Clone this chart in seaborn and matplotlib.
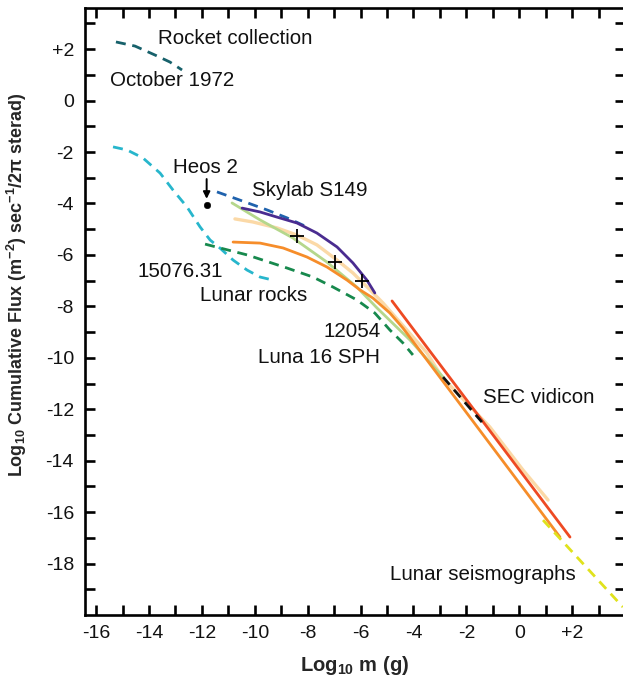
import numpy as np
import pandas as pd
import matplotlib
matplotlib.use("Agg")
import matplotlib.pyplot as plt
import seaborn as sns

sns.set_style("white")
plt.rcParams['font.family'] = ['Liberation Sans', 'DejaVu Sans']
plt.rcParams['font.sans-serif'] = ['Liberation Sans', 'DejaVu Sans']
plt.rcParams['mathtext.default'] = 'regular'

# ---- data (log10 m, log10 flux) ----
rocket_x = [-15.25, -14.53, -13.77, -13.21, -12.75]
rocket_y = [2.28, 2.12, 1.77, 1.50, 1.19]

lunar_rocks_x = [-15.36, -14.83, -14.23, -13.58, -13.09, -12.56, -12.07, -11.69, -11.32, -10.82, -10.29, -9.80, -9.31]
lunar_rocks_y = [-1.80, -1.92, -2.23, -2.82, -3.48, -4.14, -4.91, -5.42, -5.73, -6.20, -6.59, -6.86, -6.98]

s15076_x = [-11.88, -10.29, -8.78, -7.80, -7.04, -6.14, -5.46, -4.89, -4.40, -4.02]
s15076_y = [-5.58, -6.00, -6.51, -6.86, -7.25, -7.75, -8.26, -8.92, -9.42, -9.89]

skylab_x = [-11.43, -10.56, -9.54, -8.78, -8.03]
skylab_y = [-3.55, -3.87, -4.25, -4.56, -4.91]

purple_x = [-10.48, -9.80, -9.16, -8.40, -7.65, -6.89, -6.29, -5.76, -5.46]
purple_y = [-4.18, -4.33, -4.53, -4.76, -5.15, -5.69, -6.31, -6.98, -7.48]

peach_x = [-10.75, -10.07, -9.16, -8.40, -7.65, -6.89, -6.29, -5.64, -5.15, -4.25, -3.49, -2.92, -1.11, 0.14, 1.09]
peach_y = [-4.60, -4.72, -4.95, -5.23, -5.61, -6.20, -6.70, -7.36, -7.87, -8.92, -9.81, -10.75, -12.69, -14.36, -15.53]

orange_x = [-10.82, -9.80, -8.93, -8.03, -7.27, -6.51, -6.02, -5.53, -4.89, -4.40, 1.54]
orange_y = [-5.50, -5.54, -5.73, -6.08, -6.47, -6.98, -7.36, -7.68, -8.26, -8.84, -16.97]

lgreen_x = [-10.86, -9.80, -8.56, -7.27, -6.14, -5.38, -4.13, -2.88]
lgreen_y = [-3.98, -4.64, -5.34, -6.28, -7.25, -8.06, -9.31, -10.75]

red_x = [-4.81, 1.92]
red_y = [-7.79, -16.97]

sec_x = [-2.88, -1.41]
sec_y = [-10.75, -12.50]

seismo_x = [0.90, 3.92]
seismo_y = [-16.31, -19.69]

plus_x = [-8.40, -6.97, -5.95]
plus_y = [-5.26, -6.28, -7.01]

heos_x = [-11.82]
heos_y = [-4.06]

xticks = list(range(-16, 4))
xtick_labels = ['-16', '', '-14', '', '-12', '', '-10', '', '-8', '', '-6', '', '-4', '', '-2', '', '0', '', '+2', '']
yticks = list(range(-19, 4))
ylabels_map = {2: '+2', 0: '0'}

# ---- figure ----
fig = plt.figure(figsize=(6.23, 6.78), dpi=100)
ax = fig.add_axes([85/623, 1 - 615/678, (625-85)/623, (615-8)/678])

dash = (0, (3.6, 2.4))
lw = 2.0

def line(x, y, color, ls='-', w=lw):
    sns.lineplot(x=x, y=y, ax=ax, color=color, linestyle=ls, linewidth=w,
                 sort=False, estimator=None)

line(rocket_x, rocket_y, '#17616b', dash)
line(lunar_rocks_x, lunar_rocks_y, '#27b6cc', dash)
line(s15076_x, s15076_y, '#17894d', dash)
line(skylab_x, skylab_y, '#1f62ad', dash)
line(peach_x, peach_y, '#fbd9a7', '-', 2.4)
line(lgreen_x, lgreen_y, '#b5d78c', '-')
line(orange_x, orange_y, '#f68d2a', '-')
line(purple_x, purple_y, '#4a2c90', '-')
line(red_x, red_y, '#ee4a23', '-')
line(sec_x, sec_y, '#111111', dash)
line(seismo_x, seismo_y, '#e0e21c', dash)

sns.scatterplot(x=plus_x, y=plus_y, ax=ax, marker='+', s=110, color='black',
                linewidth=1.3, zorder=5)
sns.scatterplot(x=heos_x, y=heos_y, ax=ax, marker='o', s=22, color='black',
                edgecolor='black', zorder=5)
ax.annotate('', xy=(-11.82, -3.82), xytext=(-11.82, -3.05),
            arrowprops=dict(arrowstyle='-|>', color='black', lw=1.4,
                            mutation_scale=10, shrinkA=0, shrinkB=0))

fs = 14.8
txt = dict(fontsize=fs, color='#111111')
ax.text(-13.66, 2.43, 'Rocket collection', ha='left', va='center', **txt)
ax.text(-15.47, 0.80, 'October 1972', ha='left', va='center', **txt)
ax.text(-11.85, -2.62, 'Heos 2', ha='center', va='center', **txt)
ax.text(-10.11, -3.48, 'Skylab S149', ha='left', va='center', **txt)
ax.text(-14.42, -6.66, '15076.31', ha='left', va='center', **txt)
ax.text(-12.07, -7.56, 'Lunar rocks', ha='left', va='center', **txt)
ax.text(-5.23, -8.96, '12054', ha='right', va='center', **txt)
ax.text(-5.27, -9.97, 'Luna 16 SPH', ha='right', va='center', **txt)
ax.text(-1.37, -11.56, 'SEC vidicon', ha='left', va='center', **txt)
ax.text(-4.89, -18.44, 'Lunar seismographs', ha='left', va='center', **txt)

ax.set_xlim(-16.42, 4.0)
ax.set_ylim(-20, 3.6)
ax.set_xticks(xticks)
ax.set_xticklabels(xtick_labels)
ax.set_yticks(yticks)
ax.set_yticklabels([ylabels_map.get(v, str(v) if v % 2 == 0 else '') for v in yticks])

for sp in ['left', 'bottom', 'top', 'right']:
    ax.spines[sp].set_visible(True)
    ax.spines[sp].set_linewidth(1.9)
    ax.spines[sp].set_color('black')

ax.tick_params(axis='both', which='major', direction='in', length=7.5, width=1.9,
               colors='black', labelsize=14, labelcolor='#111111')
ax.tick_params(axis='x', top=True, bottom=True, pad=7)
ax.tick_params(axis='y', left=True, right=True, pad=8)

ax.set_xlabel('Log$_{10}$ m (g)', fontsize=14.5, fontweight='bold')
ax.set_ylabel('Log$_{10}$ Cumulative Flux (m$^{-2}$) sec$^{-1}$/2$\\pi$ sterad)',
              fontsize=13, fontweight='bold', va='center')
ax.yaxis.set_label_coords(-0.126, 0.544)
ax.xaxis.set_label_coords(0.5, -0.064)
ax.grid(False)

fig.savefig('out.png', dpi=100)
